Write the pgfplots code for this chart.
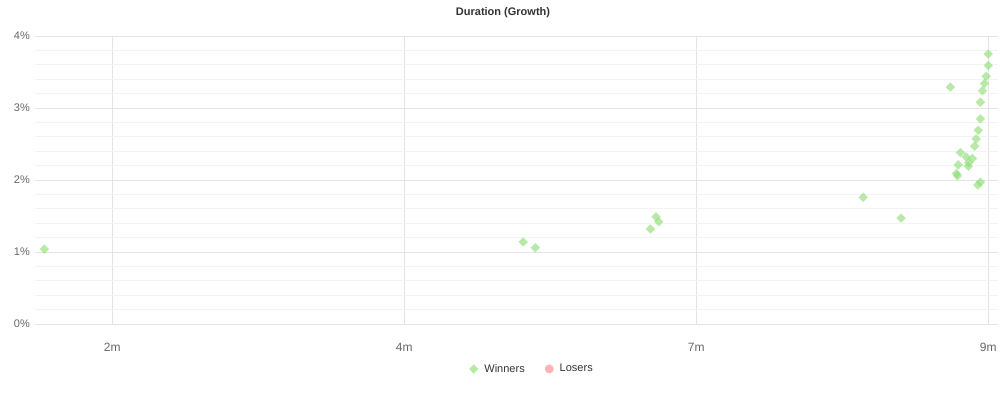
\documentclass[border=0pt]{standalone}
\usepackage{fontspec}
\setmainfont{Liberation Sans}
\usepackage{pgfplots}
\pgfplotsset{compat=1.18}
\definecolor{wfill}{RGB}{144,222,120}
\definecolor{lfill}{RGB}{255,179,179}
\definecolor{majgrid}{RGB}{228,228,228}
\definecolor{mingrid}{RGB}{243,243,243}
\definecolor{ticktxt}{RGB}{102,102,102}
\definecolor{titletxt}{RGB}{51,51,51}
\begin{document}
\begin{tikzpicture}
\path[use as bounding box] (0,0) rectangle (1006bp,394bp);
\node[font=\bfseries\fontsize{11bp}{13bp}\selectfont, text=titletxt] at (503bp,381bp) {Duration (Growth)};
\begin{axis}[
  at={(35bp,70bp)}, anchor=south west,
  scale only axis, width=963bp, height=288bp,
  xmin=51.47, xmax=282.33, ymin=0, ymax=4,
  axis line style={draw=none},
  major tick length=0pt, minor tick length=0pt,
  xtick={70,140,210,280}, xticklabels={2m,4m,7m,9m},
  ytick={0,1,2,3,4}, yticklabels={0\%,1\%,2\%,3\%,4\%},
  minor ytick={0.2,0.4,0.6,0.8,1.2,1.4,1.6,1.8,2.2,2.4,2.6,2.8,3.2,3.4,3.6,3.8},
  xmajorgrids, ymajorgrids, yminorgrids,
  major grid style={majgrid, line width=0.8bp},
  minor grid style={mingrid, line width=0.8bp},
  xticklabel style={anchor=center, yshift=-23bp, text=ticktxt, font=\fontsize{12bp}{14bp}\selectfont},
  yticklabel style={anchor=east, inner sep=0pt, xshift=-5bp, text=ticktxt, font=\fontsize{11bp}{13bp}\selectfont},
  legend columns=2,
  legend style={draw=none, fill=none, at={(0.516,-0.156)}, anchor=center,
    font=\fontsize{11bp}{13bp}\selectfont, text=titletxt,
    /tikz/every odd column/.append style={column sep=4bp},
    /tikz/every even column/.append style={column sep=18bp}},
  legend cell align=left,
]
\addplot[only marks, color=wfill, mark=square*, mark size=3.3bp,
  mark options={rotate=45, draw opacity=0, fill=wfill, fill opacity=0.65}]
coordinates {
(53.7,1.04) (168.5,1.14) (171.4,1.06) (199.0,1.32) (200.35,1.49) (201.0,1.42)
(250.0,1.76) (259.1,1.47) (270.9,3.29) (272.4,2.09) (272.6,2.06) (272.8,2.21)
(273.3,2.38) (274.7,2.32) (275.2,2.19) (275.3,2.24) (276.2,2.30) (276.7,2.47)
(277.1,2.57) (277.6,2.69) (278.1,2.85) (278.1,3.08) (278.1,1.97) (277.5,1.93)
(278.6,3.24) (279.1,3.34) (279.5,3.44) (280.0,3.59) (280.0,3.75)
};
\addlegendentry{Winners}
\addlegendimage{only marks, color=lfill, mark=*, mark size=4.5bp, mark options={draw opacity=0, fill=lfill}}
\addlegendentry{Losers}
\end{axis}
\end{tikzpicture}
\end{document}
